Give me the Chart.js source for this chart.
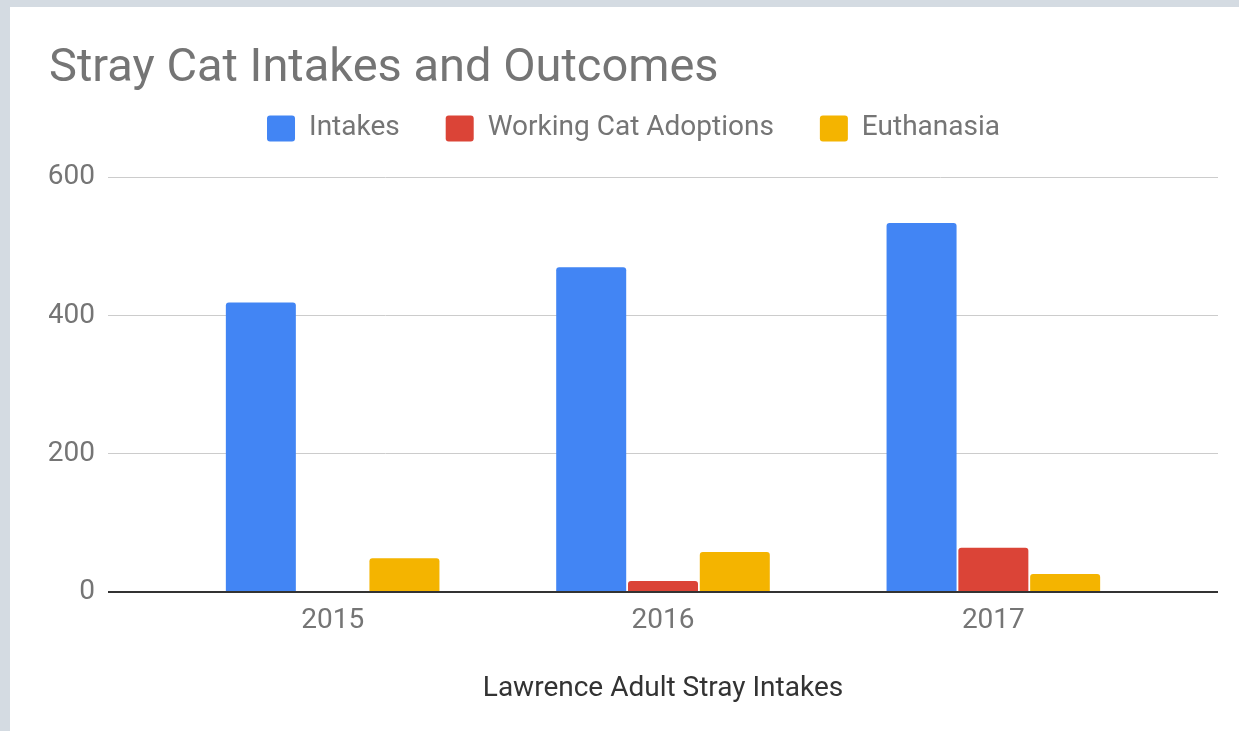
<!DOCTYPE html>
<html>
<head>
<meta charset="utf-8">
<script src="https://cdn.jsdelivr.net/npm/chart.js@4.4.1/dist/chart.umd.min.js"></script>
<style>
  html, body { margin: 0; padding: 0; background: #d4dbe2; width: 1239px; height: 731px; overflow: hidden; }
  #card { position: absolute; left: 10px; top: 7px; width: 1229px; height: 724px; background: #ffffff; }
  canvas { display: block; }
</style>
</head>
<body>
<div id="card"><canvas id="c" width="1229" height="724"></canvas></div>
<script>
const years = ['2015', '2016', '2017'];
const intakes = [419, 470, 534];
const workingCatAdoptions = [0, 16, 64];
const euthanasia = [49, 58, 26];
const yTicks = [0, 200, 400, 600];

const toPoints = arr => arr.map((v, i) => ({ x: i, y: v }));

const grey = '#757575';
const fontFamily = 'Roboto, "Noto Sans", sans-serif';

const legendGap = {
  id: 'legendGap',
  beforeInit(chart) {
    const fit = chart.legend.fit;
    chart.legend.fit = function () {
      fit.call(this);
      this.height += 25;
    };
  }
};

new Chart(document.getElementById('c'), {
  type: 'bar',
  data: {
    datasets: [
      { label: 'Intakes', data: toPoints(intakes), backgroundColor: '#4285f4' },
      { label: 'Working Cat Adoptions', data: toPoints(workingCatAdoptions), backgroundColor: '#db4437' },
      { label: 'Euthanasia', data: toPoints(euthanasia), backgroundColor: '#f4b400' }
    ]
  },
  plugins: [legendGap],
  options: {
    responsive: false,
    animation: false,
    datasets: {
      bar: {
        categoryPercentage: 0.652,
        barPercentage: 0.975,
        borderRadius: 3,
        borderSkipped: 'start'
      }
    },
    layout: { padding: { left: 39, right: 21, top: 0, bottom: 0 } },
    plugins: {
      tooltip: { enabled: false },
      title: {
        display: true,
        text: 'Stray Cat Intakes and Outcomes',
        align: 'start',
        color: grey,
        font: { family: fontFamily, size: 47, weight: 'normal' },
        padding: { top: 34, bottom: -29 }
      },
      legend: {
        display: true,
        position: 'top',
        align: 'center',
        labels: {
          color: grey,
          font: { family: fontFamily, size: 28 },
          boxWidth: 28,
          boxHeight: 26,
          useBorderRadius: true,
          borderRadius: 3,
          padding: 46
        }
      }
    },
    scales: {
      x: {
        type: 'linear',
        min: -0.68,
        max: 2.68,
        offset: false,
        grid: { display: false },
        border: { display: false },
        afterBuildTicks: s => { s.ticks = years.map((y, i) => ({ value: i })); },
        afterFit: s => { s.height = 139; },
        ticks: {
          color: grey,
          padding: 4,
          maxRotation: 0,
          autoSkip: false,
          font: { family: fontFamily, size: 28 },
          callback: (v) => years[v]
        },
        title: {
          display: true,
          text: 'Lawrence Adult Stray Intakes',
          color: '#333333',
          font: { family: fontFamily, size: 28 },
          padding: { top: 0, bottom: 25 }
        }
      },
      y: {
        min: 0,
        max: 600,
        afterBuildTicks: s => { s.ticks = yTicks.map(v => ({ value: v })); },
        afterFit: s => { s.width = 59; },
        border: { display: false },
        grid: {
          drawTicks: false,
          color: c => (c.tick && c.tick.value === 0) ? '#333333' : '#cccccc',
          lineWidth: c => (c.tick && c.tick.value === 0) ? 2 : 1
        },
        ticks: {
          color: grey,
          padding: 13,
          font: { family: fontFamily, size: 28 }
        }
      }
    }
  }
});
</script>
</body>
</html>
